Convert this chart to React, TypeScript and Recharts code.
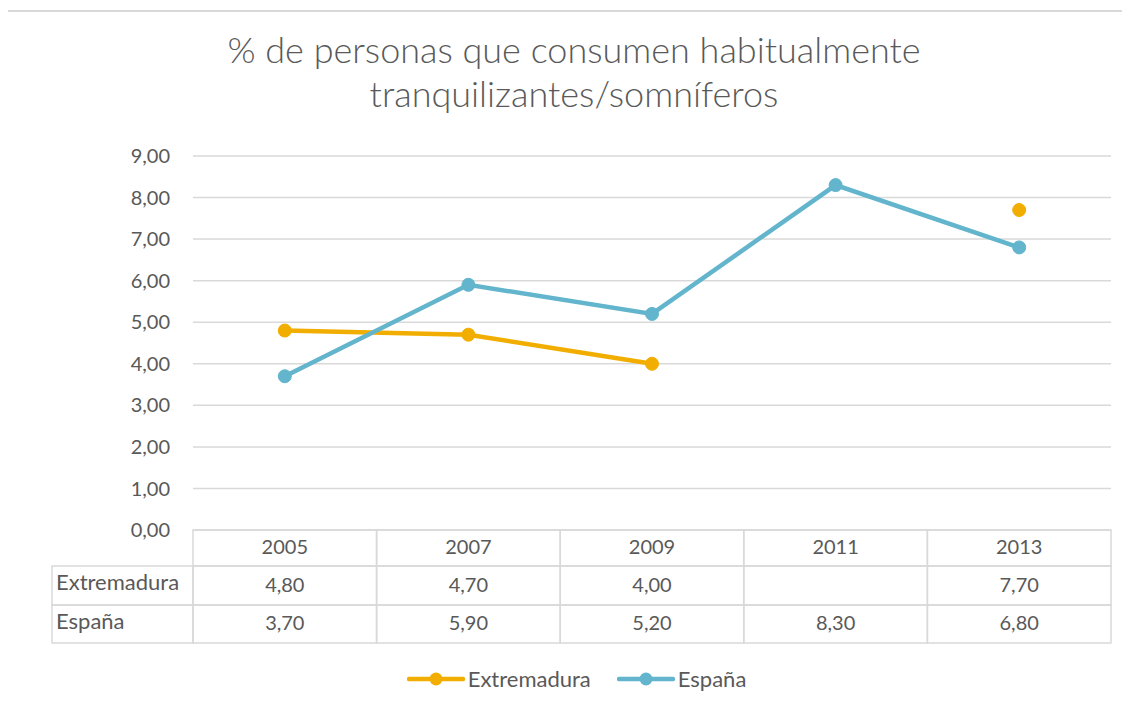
import React from "react";
import { LineChart, Line, XAxis, YAxis, CartesianGrid } from "recharts";

const years = ["2005", "2007", "2009", "2011", "2013"];
const extremadura = [4.8, 4.7, 4.0, null, 7.7];
const espana = [3.7, 5.9, 5.2, 8.3, 6.8];
const yTicks = [0, 1, 2, 3, 4, 5, 6, 7, 8, 9];

const series = [
  { key: "Extremadura", values: extremadura, color: "#F2AE00" },
  { key: "España", values: espana, color: "#62B5CC" },
];

const data = years.map((y, i) => ({
  year: y,
  Extremadura: extremadura[i],
  "España": espana[i],
}));

const W = 1130;
const H = 711;
const PLOT_LEFT = 193;
const PLOT_RIGHT = 1111;
const PLOT_TOP = 156;
const PLOT_BOTTOM = 530;
const Y_AXIS_W = 60;
const TABLE_H = 113;
const ROWS = [530, 566, 605, 643];
const TABLE_LEFT = 52;
const cellW = (PLOT_RIGHT - PLOT_LEFT) / years.length;

const TEXT = "#595959";
const GRID = "#D9D9D9";
const FONT = "Lato, 'Open Sans', sans-serif";

const fmt = (v: number | null) => (v == null ? "" : v.toFixed(2).replace(".", ","));

// data table under the plot, drawn one column per category tick
function TableTick(props: any) {
  const { x, payload } = props;
  const i = payload.index;
  const left = x - cellW / 2;
  const cells = [];
  for (let r = 0; r < 3; r++) {
    cells.push(
      <rect key={"c" + r} x={left} y={ROWS[r]} width={cellW} height={ROWS[r + 1] - ROWS[r]}
        fill="none" stroke={GRID} strokeWidth={1.5} />
    );
  }
  const texts = [payload.value, fmt(series[0].values[i]), fmt(series[1].values[i])];
  return (
    <g>
      {cells}
      {texts.map((t, r) => (
        <text key={"t" + r} x={x} y={(ROWS[r] + ROWS[r + 1]) / 2 + 1} textAnchor="middle"
          dominantBaseline="middle" fill={TEXT} fontSize={20} fontFamily={FONT}>{t}</text>
      ))}
      {i === 0 && series.map((s, r) => (
        <g key={s.key}>
          <rect x={TABLE_LEFT} y={ROWS[r + 1]} width={left - TABLE_LEFT} height={ROWS[r + 2] - ROWS[r + 1]}
            fill="none" stroke={GRID} strokeWidth={1.5} />
          <text x={TABLE_LEFT + 4} y={(ROWS[r + 1] + ROWS[r + 2]) / 2 - 1} dominantBaseline="middle"
            fill={TEXT} fontSize={22} fontFamily={FONT}>{s.key}</text>
        </g>
      ))}
    </g>
  );
}

export default function App() {
  return (
    <div style={{ margin: -8, position: "relative", width: W, height: H, background: "#fff", overflow: "hidden" }}>
      <div style={{ position: "absolute", left: 0, top: 27, width: 1148, textAlign: "center", color: TEXT,
        fontFamily: FONT, fontWeight: 300, fontSize: 36, lineHeight: "44px" }}>
        % de personas que consumen habitualmente<br />tranquilizantes/somníferos
      </div>
      <div style={{ position: "absolute", left: 0, top: 0 }}>
        <LineChart width={W} height={H} data={data}
          margin={{ top: PLOT_TOP, right: W - PLOT_RIGHT, left: PLOT_LEFT - Y_AXIS_W, bottom: H - PLOT_BOTTOM - TABLE_H }}>
          <CartesianGrid vertical={false} stroke={GRID} strokeWidth={1.5} />
          <XAxis dataKey="year" height={TABLE_H} axisLine={false} tickLine={false} tickSize={0} tickMargin={0}
            padding={{ left: cellW / 2, right: cellW / 2 }} interval={0} tick={<TableTick />} />
          <YAxis width={Y_AXIS_W} domain={[0, 9]} ticks={yTicks} axisLine={false} tickLine={false}
            tickSize={0} tickMargin={23} tickFormatter={(v: number) => fmt(v)}
            tick={{ fill: TEXT, fontSize: 20, fontFamily: FONT }} />
          {series.map((s) => (
            <Line key={s.key} dataKey={s.key} stroke={s.color} strokeWidth={4.5} isAnimationActive={false}
              dot={{ r: 6.5, fill: s.color, stroke: s.color, strokeWidth: 1 }} activeDot={false} />
          ))}
        </LineChart>
      </div>
      <div style={{ position: "absolute", left: 0, top: 665, width: 1153, display: "flex", justifyContent: "center",
        gap: 26, fontFamily: FONT, fontSize: 22, color: TEXT }}>
        {series.map((s) => (
          <div key={s.key} style={{ display: "flex", alignItems: "center" }}>
            <svg width={58} height={26}>
              <line x1={2} y1={13} x2={56} y2={13} stroke={s.color} strokeWidth={4.5} strokeLinecap="round" />
              <circle cx={29} cy={13} r={6.5} fill={s.color} />
            </svg>
            <span style={{ marginLeft: 3 }}>{s.key}</span>
          </div>
        ))}
      </div>
      <div style={{ position: "absolute", left: 6, top: 10, width: 1200, height: 800,
        borderLeft: "2px solid #D9D9D9", borderTop: "2px solid #D9D9D9", pointerEvents: "none" }} />
    </div>
  );
}
